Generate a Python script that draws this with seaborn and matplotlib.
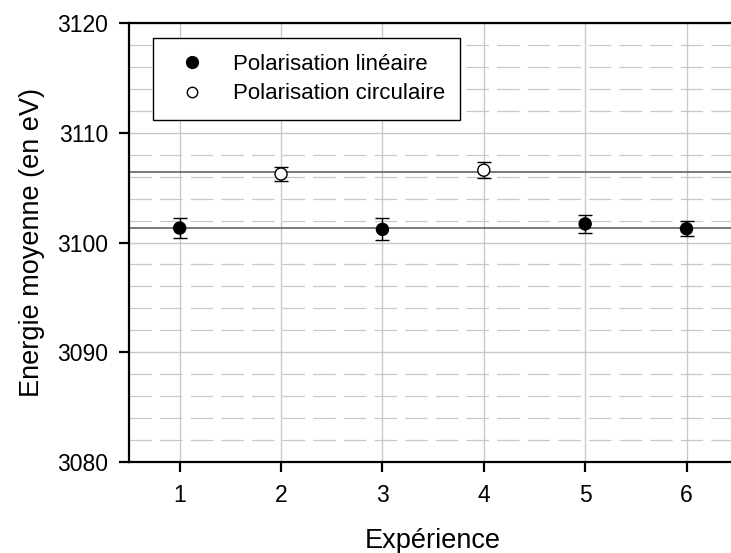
import numpy as np
import pandas as pd
import matplotlib
matplotlib.use("Agg")
import matplotlib.pyplot as plt
from matplotlib.ticker import MultipleLocator
from matplotlib.lines import Line2D
import seaborn as sns

# Mean energy per experiment (eV) and its uncertainty
experiences = [1, 2, 3, 4, 5, 6]
polarisation = ["linéaire", "circulaire", "linéaire", "circulaire", "linéaire", "linéaire"]
energie = [3101.32, 3106.25, 3101.20, 3106.60, 3101.70, 3101.26]
incertitude = [0.90, 0.67, 1.00, 0.75, 0.80, 0.70]

df = pd.DataFrame({
    "Expérience": experiences,
    "Polarisation": polarisation,
    "Energie": energie,
    "Erreur": incertitude,
})

sns.set_theme(style="ticks")
plt.rcParams["font.family"] = ["Liberation Sans", "DejaVu Sans"]
plt.rcParams["text.color"] = "black"
plt.rcParams["axes.labelcolor"] = "black"

fig = plt.figure(figsize=(7.31, 5.53), dpi=100)
ax = fig.add_axes([0.1765, 0.165, 0.832, 0.7928])

# grid: solid majors, dashed minors every 2 eV
ax.yaxis.set_major_locator(MultipleLocator(10))
ax.yaxis.set_minor_locator(MultipleLocator(2))
ax.xaxis.set_major_locator(MultipleLocator(1))
ax.grid(which="major", axis="both", color="#c8c8c8", lw=1.0, zorder=0)
ax.grid(which="minor", axis="y", color="#c8c8c8", lw=0.9,
        linestyle=(0, (18, 6.5)), zorder=0)
ax.set_axisbelow(True)

# mean level of each polarisation
for pol in ["linéaire", "circulaire"]:
    m = df.loc[df["Polarisation"] == pol, "Energie"].mean()
    ax.axhline(m, color="#555555", lw=1.1, zorder=1)

ax.errorbar(df["Expérience"], df["Energie"], yerr=df["Erreur"], fmt="none",
            ecolor="black", elinewidth=1.0, capsize=5, capthick=1.0, zorder=2)

palette = {"linéaire": "black", "circulaire": "white"}
sns.scatterplot(data=df, x="Expérience", y="Energie", hue="Polarisation",
                palette=palette, edgecolor="black", linewidth=1.0, s=75,
                legend=False, ax=ax, zorder=3)

ax.set_xlim(0.5, 6.5)
ax.set_ylim(3080, 3120)
ax.set_xticks(experiences)
ax.set_yticks([3080, 3090, 3100, 3110, 3120])

for side in ["left", "bottom", "top"]:
    ax.spines[side].set_linewidth(1.6)
    ax.spines[side].set_color("black")
ax.spines["right"].set_visible(False)

ax.tick_params(which="major", direction="out", length=7, width=1.6,
               labelsize=16.5, colors="black")
ax.tick_params(which="minor", length=0)
ax.tick_params(axis="x", pad=9)
ax.tick_params(axis="y", pad=8)
ax.tick_params(top=False, right=False)

ax.set_xlabel("Expérience", fontsize=19.5, labelpad=15, color="black")
ax.set_ylabel("Energie moyenne (en eV)", fontsize=19.5, labelpad=9, color="black")

handles = [
    Line2D([], [], marker="o", ls="none", mfc="black", mec="black", ms=8.5),
    Line2D([], [], marker="o", ls="none", mfc="white", mec="black", ms=7.5),
]
leg = ax.legend(handles, ["Polarisation linéaire", "Polarisation circulaire"],
                loc="upper left", bbox_to_anchor=(0.039, 0.9665),
                borderaxespad=0, frameon=True, fancybox=False, fontsize=16,
                handletextpad=0.8, borderpad=0.7, labelspacing=0.4,
                handlelength=2.1)
leg.get_frame().set_edgecolor("black")
leg.get_frame().set_linewidth(1.0)
leg.get_frame().set_facecolor("white")
leg.get_frame().set_alpha(1)

fig.savefig("out.png", dpi=100)
